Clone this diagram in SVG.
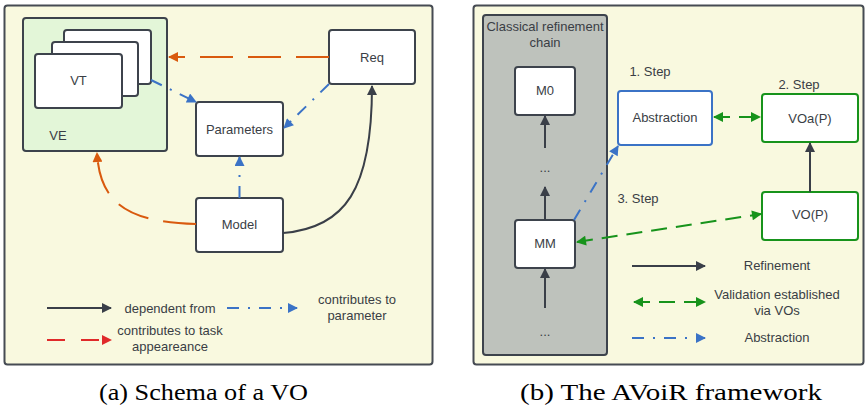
<svg xmlns="http://www.w3.org/2000/svg" width="865" height="408" viewBox="0 0 865 408">
  <style>
    .panel { fill: #f9f9df; stroke: #464b53; stroke-width: 2; }
    .node { fill: #ffffff; stroke: #3d434c; stroke-width: 2; }
    .ve { fill: #e3f6d8; stroke: #3d434c; stroke-width: 2; }
    .chainbox { fill: #bec2bc; stroke: #3d434c; stroke-width: 2; }
    .blue { fill: #ffffff; stroke: #3b73c6; stroke-width: 2; }
    .green { fill: #ffffff; stroke: #17931b; stroke-width: 2; }
    text { font-family: "Liberation Sans", Arial, sans-serif; font-size: 13px; fill: #3a3e45; text-anchor: middle; }
    .cap { font-family: "Liberation Serif", "Times New Roman", serif; font-size: 24px; fill: #000000; }
    .c-dep { fill: none; stroke: #3a3f48; stroke-width: 2; }
    .c-task { fill: none; stroke: #d95a0e; stroke-width: 2; stroke-dasharray: 33 15; }
    .c-taskleg { fill: none; stroke: #e02a2a; stroke-width: 2; stroke-dasharray: 18 16; }
    .c-par { fill: none; stroke: #3b73c6; stroke-width: 2; stroke-dasharray: 12 9 2 9; }
    .c-val { fill: none; stroke: #17931b; stroke-width: 2; stroke-dasharray: 16 9; }
  </style>
  <defs>
    <marker id="ah-dark" viewBox="0 0 10 10" refX="9" refY="5" markerWidth="5.5" markerHeight="5" orient="auto-start-reverse" markerUnits="strokeWidth">
      <path d="M0,0 L10,5 L0,10 z" fill="#3a3f48"/>
    </marker>
    <marker id="ah-orange" viewBox="0 0 10 10" refX="9" refY="5" markerWidth="5.5" markerHeight="5" orient="auto-start-reverse" markerUnits="strokeWidth">
      <path d="M0,0 L10,5 L0,10 z" fill="#d95a0e"/>
    </marker>
    <marker id="ah-red" viewBox="0 0 10 10" refX="9" refY="5" markerWidth="5.5" markerHeight="5" orient="auto-start-reverse" markerUnits="strokeWidth">
      <path d="M0,0 L10,5 L0,10 z" fill="#e02a2a"/>
    </marker>
    <marker id="ah-blue" viewBox="0 0 10 10" refX="9" refY="5" markerWidth="5.5" markerHeight="5" orient="auto-start-reverse" markerUnits="strokeWidth">
      <path d="M0,0 L10,5 L0,10 z" fill="#3b73c6"/>
    </marker>
    <marker id="ah-green" viewBox="0 0 10 10" refX="9" refY="5" markerWidth="5.5" markerHeight="5" orient="auto-start-reverse" markerUnits="strokeWidth">
      <path d="M0,0 L10,5 L0,10 z" fill="#17931b"/>
    </marker>
  </defs>

  <!-- Panel (a): schema of a VO -->
  <rect class="panel" x="4.5" y="5.5" width="428" height="359" rx="3"/>

  <g id="ve">
    <rect class="ve" x="23" y="18" width="144" height="133" rx="3"/>
    <text x="58" y="140">VE</text>
  </g>
  <g id="vt">
    <rect class="node" x="64" y="30" width="87" height="54" rx="3"/>
    <rect class="node" x="52" y="42" width="86" height="54" rx="3"/>
    <rect class="node" x="35" y="54" width="87" height="54" rx="3"/>
    <text x="78.5" y="85">VT</text>
  </g>
  <g id="req">
    <rect class="node" x="329" y="30" width="86" height="54" rx="3"/>
    <text x="372" y="62">Req</text>
  </g>
  <g id="parameters">
    <rect class="node" x="196" y="102" width="87" height="54" rx="3"/>
    <text x="239.5" y="134">Parameters</text>
  </g>
  <g id="model">
    <rect class="node" x="196" y="198" width="87" height="54" rx="3"/>
    <text x="239.5" y="229">Model</text>
  </g>

  <g id="connectors-a">
    <path class="c-task" d="M329,57 L169,57" marker-end="url(#ah-orange)"/>
    <path class="c-par" d="M151,80 L196,102" marker-end="url(#ah-blue)"/>
    <path class="c-par" d="M329,84 L284,128" marker-end="url(#ah-blue)"/>
    <path class="c-par" d="M239.5,198 L239.5,157" marker-end="url(#ah-blue)"/>
    <path class="c-task" d="M196,224 C130,222 100,205 97,153" marker-end="url(#ah-orange)"/>
    <path class="c-dep" d="M283,233 C345,228 372,190 372,86" marker-end="url(#ah-dark)"/>
  </g>

  <g id="legend-a">
    <path class="c-dep" d="M47,308 L111,308" marker-end="url(#ah-dark)"/>
    <text x="170" y="313">dependent from</text>
    <path class="c-par" d="M227,308 L297,308" marker-end="url(#ah-blue)"/>
    <text x="357" y="304">contributes to</text>
    <text x="357" y="320">parameter</text>
    <path class="c-taskleg" d="M47,340 L111,340" marker-end="url(#ah-red)"/>
    <text x="170" y="335">contributes to task</text>
    <text x="170" y="351">appeareance</text>
  </g>

  <!-- Panel (b): the AVoiR framework -->
  <rect class="panel" x="473.5" y="5.5" width="390" height="359" rx="3"/>

  <g id="chain">
    <rect class="chainbox" x="483" y="15" width="124" height="340" rx="3"/>
    <text x="545" y="31">Classical refinement</text>
    <text x="545" y="47">chain</text>
    <text x="545" y="172">...</text>
    <text x="545" y="336">...</text>
  </g>
  <g id="m0">
    <rect class="node" x="515" y="67" width="60" height="48" rx="3"/>
    <text x="545" y="95">M0</text>
  </g>
  <g id="mm">
    <rect class="node" x="515" y="220" width="60" height="48" rx="3"/>
    <text x="545" y="248">MM</text>
  </g>
  <g id="abstraction">
    <rect class="blue" x="618" y="91" width="94" height="54" rx="3"/>
    <text x="665" y="122">Abstraction</text>
    <text x="650" y="76">1. Step</text>
  </g>
  <g id="voa">
    <rect class="green" x="762" y="94" width="96" height="48" rx="3"/>
    <text x="810" y="123">VOa(P)</text>
    <text x="799" y="89">2. Step</text>
  </g>
  <g id="vo">
    <rect class="green" x="762" y="192" width="96" height="48" rx="3"/>
    <text x="810" y="219">VO(P)</text>
    <text x="638" y="203">3. Step</text>
  </g>

  <g id="connectors-b">
    <path class="c-dep" d="M545,148 L545,116" marker-end="url(#ah-dark)"/>
    <path class="c-dep" d="M545,220 L545,187" marker-end="url(#ah-dark)"/>
    <path class="c-dep" d="M545,308 L545,269" marker-end="url(#ah-dark)"/>
    <path class="c-dep" d="M810,192 L810,143" marker-end="url(#ah-dark)"/>
    <path class="c-val" d="M714,117 L760,117" marker-start="url(#ah-green)" marker-end="url(#ah-green)"/>
    <path class="c-par" d="M574,220 L618,146" marker-end="url(#ah-blue)"/>
    <path class="c-val" d="M577,242 L761,214" marker-start="url(#ah-green)" marker-end="url(#ah-green)"/>
  </g>

  <g id="legend-b">
    <path class="c-dep" d="M632,266 L705,266" marker-end="url(#ah-dark)"/>
    <text x="777" y="270">Refinement</text>
    <path class="c-val" d="M634,302 L705,302" marker-start="url(#ah-green)" marker-end="url(#ah-green)"/>
    <text x="777" y="299">Validation established</text>
    <text x="777" y="315">via VOs</text>
    <path class="c-par" d="M632,338 L705,338" marker-end="url(#ah-blue)"/>
    <text x="777" y="342">Abstraction</text>
  </g>

  <!-- Sub-figure captions -->
  <text class="cap" x="203.5" y="400" textLength="209" lengthAdjust="spacingAndGlyphs">(a) Schema of a VO</text>
  <text class="cap" x="671" y="400" textLength="302" lengthAdjust="spacingAndGlyphs">(b) The AVoiR framework</text>
</svg>
